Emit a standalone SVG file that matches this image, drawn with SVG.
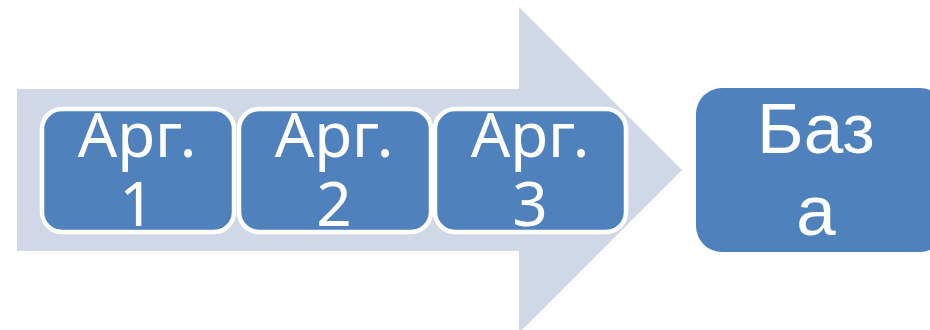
<svg xmlns="http://www.w3.org/2000/svg" width="930" height="330" viewBox="0 0 930 330">
<style>
.box{fill:#4F81BD;stroke:#FFFFFF;stroke-width:4.5}
.t{fill:#FFFFFF;font-family:"Noto Sans","Open Sans",sans-serif;font-size:62px;text-anchor:middle}
.tb{fill:#FFFFFF;font-family:"Liberation Sans",Arial,sans-serif;font-size:71px;text-anchor:middle}
</style>
<g id="arrow">
<polygon points="17,89 519,89 519,7 682,170 519,333 519,251 17,251" fill="#D0D8E8"/>
</g>
<g id="connectors"></g>
<g id="arg1">
<rect class="box" x="42" y="109" width="192" height="123" rx="20"/>
<text class="t" x="137" y="157">Арг.<tspan x="137" dy="69">1</tspan></text>
</g>
<g id="arg2">
<rect class="box" x="239" y="109" width="192" height="123" rx="20"/>
<text class="t" x="334" y="157">Арг.<tspan x="334" dy="69">2</tspan></text>
</g>
<g id="arg3">
<rect class="box" x="435" y="109" width="191" height="123" rx="20"/>
<text class="t" x="530" y="157">Арг.<tspan x="530" dy="69">3</tspan></text>
</g>
<g id="baza">
<rect x="696" y="88" width="250" height="164" rx="26" fill="#4F81BD"/>
<text class="tb" x="816" y="153">Баз<tspan x="816" dy="82">а</tspan></text>
</g>
</svg>
